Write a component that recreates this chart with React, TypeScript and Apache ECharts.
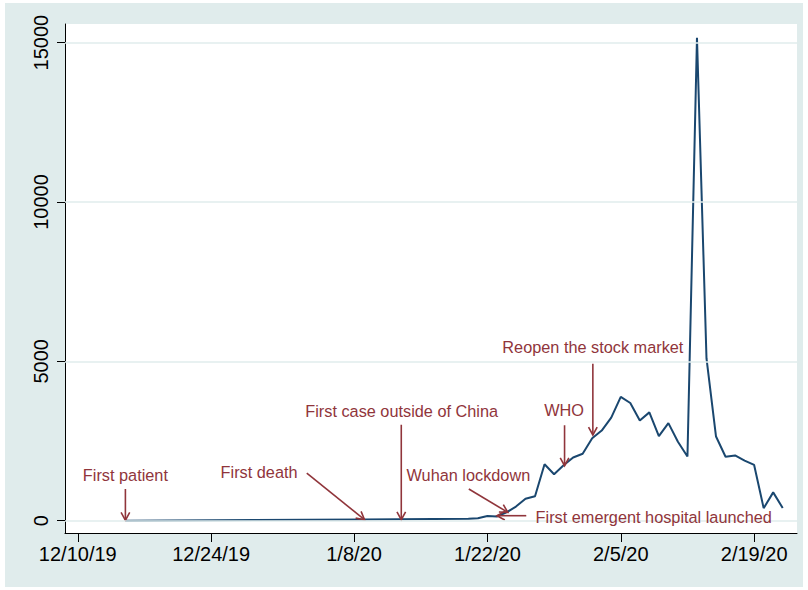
import React, { useEffect, useRef } from "react";
import * as echarts from "echarts";

// ---- data ----
const dates = [
  "12/15/19", "1/9/20", "1/20/20", "1/21/20", "1/22/20", "1/23/20", "1/24/20", "1/25/20",
  "1/26/20", "1/27/20", "1/28/20", "1/29/20", "1/30/20", "1/31/20", "2/1/20", "2/2/20",
  "2/3/20", "2/4/20", "2/5/20", "2/6/20", "2/7/20", "2/8/20", "2/9/20", "2/10/20",
  "2/11/20", "2/12/20", "2/13/20", "2/14/20", "2/15/20", "2/16/20", "2/17/20", "2/18/20",
  "2/19/20", "2/20/20", "2/21/20", "2/22/20",
];
const cases = [
  1, 41, 60, 77, 149, 131, 259, 444,
  688, 769, 1771, 1459, 1737, 1982, 2102, 2590,
  2829, 3235, 3887, 3694, 3143, 3399, 2656, 3062,
  2478, 2015, 15152, 5090, 2641, 2008, 2048, 1886,
  1749, 394, 889, 397,
];
const xTickLabels = ["12/10/19", "12/24/19", "1/8/20", "1/22/20", "2/5/20", "2/19/20"];
const yTicks = [0, 5000, 10000, 15000];

// annotations (x in days after 12/10/19, y in cases)
const noteTexts = [
  "First patient", "First death", "First case outside of China", "Wuhan lockdown",
  "First emergent hospital launched", "WHO", "Reopen the stock market",
];
const noteTextAt = [
  [5.0, 1421], [19.03, 1515], [34.0, 3428], [41.0, 1443], [48.06, 116], [51.05, 3459], [54.07, 5441],
];
const noteAlign = ["center", "center", "center", "center", "left", "center", "center"];
const arrowFrom = [
  [5.0, 994], [24.04, 1496], [33.96, 3011], [41.05, 994], [47.08, 157], [51.1, 2995], [54.07, 4924],
];
const arrowTo = [
  [5.0, 10], [30.1, 31], [33.96, 31], [45.15, 260], [44.0, 157], [51.1, 1725], [54.07, 2690],
];

const BASE = Date.UTC(2019, 11, 10);
const dayOf = (s: string) => {
  const [m, d, y] = s.split("/").map(Number);
  return (Date.UTC(2000 + y, m - 1, d) - BASE) / 86400000;
};

const FONT = '"Liberation Sans", Arial, sans-serif';
const MAROON = "#90353b";
const NAVY = "#1a476f";
const GRIDC = "#e1eded";

export default function App() {
  const ref = useRef<HTMLDivElement>(null);
  useEffect(() => {
    const chart = echarts.init(ref.current as HTMLDivElement, null, { renderer: "svg" });
    const xTickDays = xTickLabels.map(dayOf);
    const labelByDay: Record<string, string> = {};
    xTickLabels.forEach((l, i) => (labelByDay[String(xTickDays[i])] = l));
    const points = dates.map((d, i) => [dayOf(d), cases[i]]);

    chart.setOption({
      animation: false,
      backgroundColor: "#ffffff",
      graphic: [
        {
          type: "rect",
          shape: { x: 5, y: 3, width: 798, height: 584 },
          style: { fill: "#e0ecec" },
          z: -100,
          silent: true,
        },
      ],
      grid: {
        left: 65,
        top: 24,
        right: 11,
        bottom: 57,
        show: true,
        backgroundColor: "#ffffff",
        borderWidth: 0,
      },
      xAxis: {
        type: "value",
        min: -1.34,
        max: 75.5,
        splitLine: { show: false },
        axisLine: { onZero: false, lineStyle: { color: "#000", width: 1 } },
        axisTick: { customValues: xTickDays, length: 9, lineStyle: { color: "#000", width: 1 } },
        axisLabel: {
          customValues: xTickDays,
          formatter: (v: number) => labelByDay[String(v)] ?? "",
          fontSize: 20,
          fontFamily: FONT,
          color: "#000",
          margin: 11,
        },
      },
      yAxis: {
        type: "value",
        min: -386,
        max: 15586,
        splitLine: { show: false },
        axisLine: { show: true, onZero: false, lineStyle: { color: "#000", width: 1 } },
        axisTick: { show: true, customValues: yTicks, length: 8, lineStyle: { color: "#000", width: 1 } },
        axisLabel: {
          customValues: yTicks,
          formatter: (v: number) => String(v),
          rotate: 90,
          fontSize: 20,
          fontFamily: FONT,
          color: "#000",
          margin: 14,
        },
      },
      series: [
        {
          type: "line",
          data: [],
          z: 1,
          markLine: {
            silent: true,
            symbol: "none",
            label: { show: false },
            lineStyle: { color: GRIDC, width: 1.5, type: "solid" },
            data: yTicks.map((v) => ({ yAxis: v })),
          },
        },
        {
          type: "line",
          data: points,
          symbol: "none",
          showSymbol: false,
          connectNulls: true,
          lineStyle: { color: NAVY, width: 2 },
          z: 3,
        },
        {
          type: "custom",
          z: 4,
          clip: false,
          data: arrowFrom.map((f, i) => [f[0], f[1], arrowTo[i][0], arrowTo[i][1]]),
          renderItem: (params: any, api: any) => {
            const a = api.coord([api.value(0), api.value(1)]);
            const b = api.coord([api.value(2), api.value(3)]);
            const ang = Math.atan2(b[1] - a[1], b[0] - a[0]);
            const L = 9;
            const spread = 0.5;
            const p1 = [b[0] - L * Math.cos(ang - spread), b[1] - L * Math.sin(ang - spread)];
            const p2 = [b[0] - L * Math.cos(ang + spread), b[1] - L * Math.sin(ang + spread)];
            const st = { stroke: MAROON, lineWidth: 1.6, fill: null };
            return {
              type: "group",
              children: [
                { type: "line", shape: { x1: a[0], y1: a[1], x2: b[0], y2: b[1] }, style: st },
                { type: "polyline", shape: { points: [p1, b, p2] }, style: st },
              ],
            };
          },
        },
        {
          type: "custom",
          z: 5,
          clip: false,
          data: noteTextAt.map((p, i) => [p[0], p[1], i]),
          renderItem: (params: any, api: any) => {
            const p = api.coord([api.value(0), api.value(1)]);
            const i = api.value(2);
            return {
              type: "text",
              x: p[0],
              y: p[1],
              style: {
                text: noteTexts[i],
                fill: MAROON,
                fontSize: 16.3,
                fontFamily: FONT,
                align: noteAlign[i],
                verticalAlign: "middle",
              },
            };
          },
        },
      ],
    });
    return () => chart.dispose();
  }, []);
  return (
    <div
      ref={ref}
      style={{ position: "fixed", left: 0, top: 0, width: 808, height: 590 }}
    />
  );
}
